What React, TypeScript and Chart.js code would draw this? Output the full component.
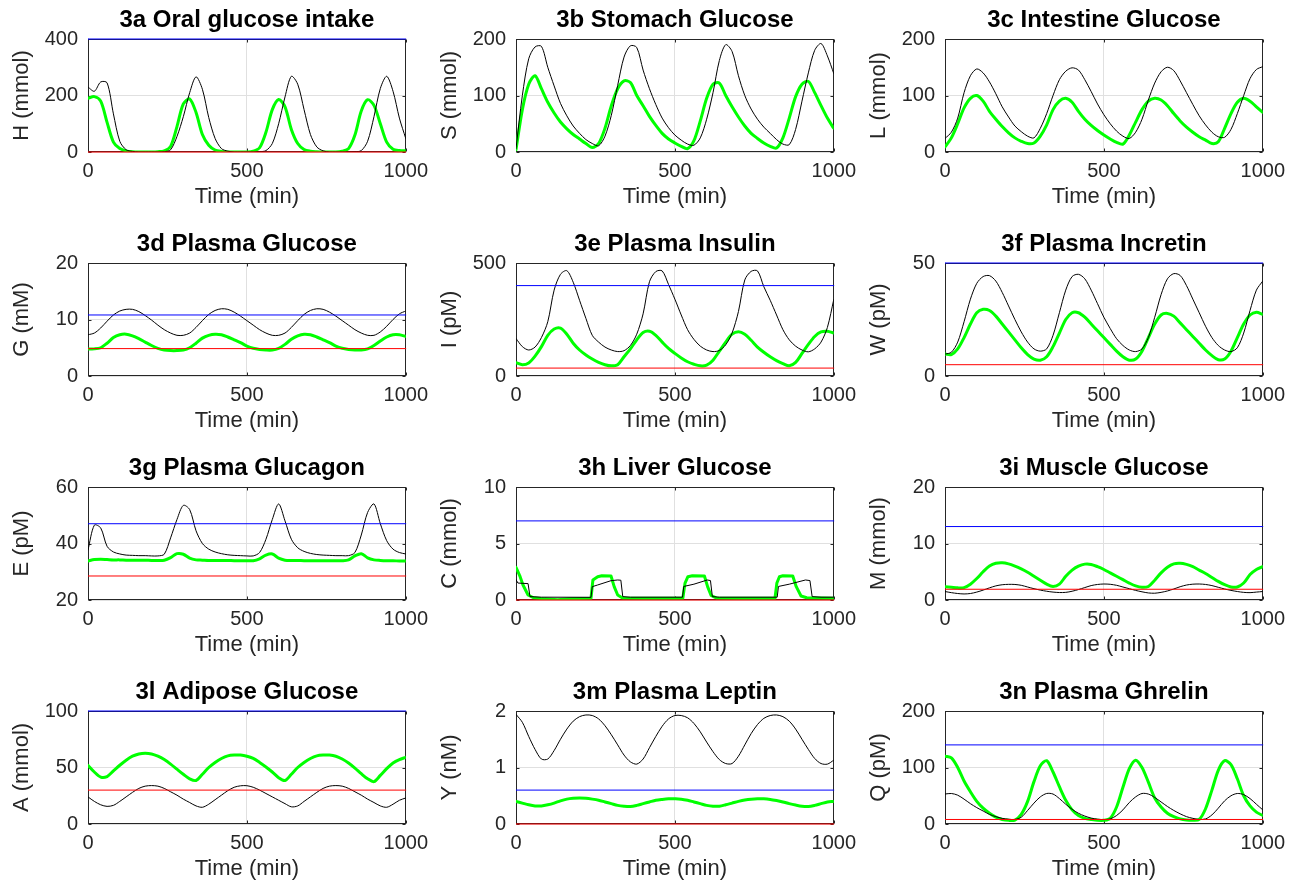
import React, { useEffect, useRef } from "react";
import { Chart, registerables } from "chart.js";

Chart.register(...registerables);

const FONT = "'Liberation Sans', Arial, Helvetica, sans-serif";

// ---------- data ----------
const timeMin = [0,20,40,60,80,100,120,140,160,180,200,220,240,260,280,300,320,340,360,380,400,420,440,460,480,500,520,540,560,580,600,620,640,660,680,700,720,740,760,780,800,820,840,860,880,900,920,940,960,980,1000];

const hBlack = [230,215,248,245,135,38,8,2,0,0,0,0,1,8,55,125,210,266,222,122,48,12,3,0,0,0,0,1,5,30,100,195,268,240,150,62,18,4,0,0,0,0,1,5,38,125,225,268,215,120,48];
const hGreen = [190,196,180,105,35,12,4,1,0,0,0,1,4,20,90,170,188,140,62,24,7,2,0,0,0,0,3,15,70,150,186,160,80,30,9,3,1,0,0,0,3,12,60,145,185,165,100,35,10,5,4];

const sBlack = [6,100,165,186,187,150,117,86,64,46,33,22,15,11,28,65,118,168,188,185,145,112,84,60,43,30,21,14,12,25,58,105,162,190,178,135,100,76,58,44,33,22,14,13,40,90,140,180,192,170,139];
const sGreen = [4,75,120,135,112,88,69,53,41,31,23,15,8,15,42,82,112,126,123,100,82,63,47,33,23,16,10,6,20,55,95,120,122,100,80,62,46,33,24,16,10,7,25,60,98,120,125,105,82,60,42];

const lBlack = [24,35,60,105,135,147,140,124,103,80,62,46,36,28,25,42,68,100,128,143,149,145,128,107,85,66,50,37,28,24,35,58,92,122,142,150,144,126,105,84,64,48,35,27,26,40,68,100,130,146,151];
const lGreen = [9,25,50,78,95,100,90,72,58,45,34,25,19,15,16,28,48,75,90,95,88,72,58,47,38,30,23,17,14,30,53,75,90,95,92,82,68,55,44,35,27,21,15,18,42,68,88,95,90,80,70];

const gBlack = [7.3,7.6,8.5,9.7,10.8,11.5,11.8,11.8,11.4,10.7,9.9,9.0,8.2,7.6,7.2,7.2,7.6,8.6,9.8,10.9,11.6,11.9,11.8,11.3,10.6,9.8,9.0,8.2,7.6,7.2,7.2,7.6,8.6,9.8,10.9,11.6,11.9,11.8,11.3,10.6,9.8,9.0,8.2,7.6,7.2,7.2,7.8,8.8,10.0,11.0,11.5];
const gGreen = [4.8,4.8,5.0,5.8,6.8,7.3,7.4,7.1,6.6,6.0,5.4,4.9,4.6,4.5,4.5,4.6,5.0,5.8,6.7,7.2,7.4,7.3,6.9,6.4,5.9,5.3,4.9,4.7,4.6,4.6,4.9,5.6,6.5,7.1,7.4,7.3,6.9,6.4,5.9,5.3,4.9,4.7,4.6,4.6,4.8,5.4,6.2,6.9,7.3,7.3,7.0];

const iBlack = [166,130,115,128,170,240,380,450,466,415,335,255,180,150,128,115,108,112,135,185,275,417,462,465,405,340,270,205,162,132,115,108,113,138,190,285,425,463,465,395,335,270,205,160,132,115,107,120,150,215,338];
const iGreen = [59,50,58,88,130,180,208,212,185,145,115,93,75,60,50,45,50,85,120,160,192,198,180,150,122,100,80,63,52,45,48,70,110,150,185,196,185,158,128,105,85,68,55,45,60,100,140,175,195,198,190];

const wBlack = [9.7,10.5,15,24,34,41,44,44.4,42,37,31,25,19.5,15,12,11,12,18,28,38,44,45,43,38,32,26,21,16.5,13.5,11.5,10.8,12,17,26,36,43,45.3,44.5,40,34,28,22,17,13.5,11.5,10.8,12.5,19,29,38,42];
const wGreen = [9.7,9.5,12,17,23,28,29.5,29,26.5,23,19.5,16,12.5,9.5,7.5,7,8.5,13,19,25,28,28,26,23,20,17,14,11,8.5,7,7.5,11,17,23,27,27.7,26.5,23.5,20.5,17.5,14.5,11.5,9,7.2,7.5,11,17,23,27,28.2,27.3];

const eBlack = [37.7,46.5,45.5,39,37,36.3,35.9,35.8,35.7,35.7,35.6,35.6,36.2,42,48.5,53.5,52,44.5,40,38,37,36.4,36,35.8,35.7,35.6,35.6,36.8,41.5,48.5,54,48,41.5,38.5,37.2,36.5,36.1,35.9,35.8,35.7,35.7,35.7,36.8,43,51,54,47,41,38,36.8,36.3];
const eGreen = [33.8,34.3,34.4,34.3,34.2,34.2,34.1,34.1,34.1,34.1,34.0,34.0,34.1,35.0,36.4,36.2,34.8,34.2,34.1,34.0,34.0,34.0,34.0,33.9,33.9,33.9,33.9,34.6,35.9,36.3,34.8,34.1,34.0,34.0,33.9,33.9,33.9,33.9,33.9,33.9,33.9,34.2,35.6,36.4,34.9,34.2,34.0,33.9,33.9,33.8,33.8];

// 3h has step-like curves: own sample times so the edges stay steep
const cBlackTime = [0,6,38,44,80,236,240,257,299,320,330,336,360,524,528,560,602,612,618,640,822,826,860,911,925,932,960,1000];
const cBlack = [1.8,1.5,1.45,0.3,0.25,0.24,1.18,1.33,1.71,1.77,1.75,0.3,0.25,0.25,1.2,1.4,1.77,1.72,0.3,0.25,0.25,1.2,1.4,1.77,1.72,0.3,0.25,0.25];
const cGreenTime = [0,13,22,38,55,90,131,170,236,242,257,270,299,309,320,335,400,525,532,541,555,593,603,614,630,700,815,821,829,840,871,882,897,915,1000];
const cGreen = [2.9,2.06,1.33,0.44,0.2,0.1,0.03,0.12,0.15,1.77,2.06,2.15,2.12,1.18,0.44,0.18,0.15,0.15,1.5,2.06,2.15,2.12,1.18,0.4,0.18,0.15,0.15,1.5,2.06,2.15,2.12,1.18,0.35,0.2,0.15];

const mBlack = [1.5,1.3,1.15,1.07,1.15,1.4,1.75,2.15,2.5,2.7,2.77,2.75,2.6,2.3,2.0,1.75,1.55,1.4,1.32,1.35,1.55,1.85,2.2,2.55,2.75,2.83,2.78,2.6,2.3,2.0,1.7,1.45,1.25,1.2,1.35,1.6,1.95,2.35,2.65,2.8,2.83,2.75,2.55,2.25,1.95,1.7,1.5,1.35,1.3,1.4,1.5];
const mGreen = [2.35,2.25,2.15,2.2,2.8,3.8,5.0,6.0,6.5,6.6,6.4,6.0,5.5,4.9,4.2,3.5,2.8,2.4,2.8,4.2,5.3,6.0,6.35,6.3,5.9,5.4,4.8,4.2,3.6,3.0,2.5,2.25,2.4,3.5,4.8,5.8,6.4,6.5,6.3,5.9,5.3,4.7,4.0,3.3,2.7,2.3,2.3,3.0,4.5,5.4,5.9];

const aBlack = [24,20,17,15.6,16.5,20,24,28,31.5,33.5,34,33.5,31.5,28.5,25.5,22,19,16,14.8,17.5,21.5,25.5,29.5,32.5,33.8,33.9,32.5,30,27,24,21,18,15.2,16,20,24,28,31.5,33.5,34,33.5,31.5,28.5,25.5,22,19,16,14.8,17.5,21,23];
const aGreen = [52,46,41.5,42,47,52,56.5,60,62,62.6,62,60,57,53,48.5,44,40,38.5,44,50,54.5,58,60.3,61,61,60,58,54.5,50.5,46,41,38.5,44,50,54.5,58,60.3,61,61,60,57.5,54,49.5,44.5,40,37.5,43,49,54,57,59];

const yBlack = [1.94,1.8,1.55,1.32,1.15,1.15,1.3,1.5,1.68,1.82,1.9,1.93,1.92,1.86,1.74,1.58,1.4,1.22,1.1,1.06,1.15,1.35,1.55,1.73,1.86,1.92,1.92,1.88,1.78,1.63,1.45,1.28,1.14,1.07,1.07,1.2,1.4,1.6,1.76,1.87,1.92,1.93,1.9,1.82,1.68,1.5,1.32,1.16,1.07,1.06,1.13];
const yGreen = [0.4,0.37,0.34,0.32,0.32,0.34,0.37,0.41,0.44,0.455,0.46,0.455,0.44,0.42,0.39,0.36,0.33,0.315,0.31,0.33,0.36,0.39,0.42,0.435,0.445,0.445,0.44,0.42,0.39,0.36,0.33,0.315,0.315,0.34,0.37,0.4,0.425,0.44,0.445,0.445,0.435,0.415,0.39,0.36,0.335,0.315,0.31,0.33,0.36,0.39,0.4];

const qBlack = [53,54,51,44,36,29,23,17,13,10,8.5,8,12,24,37,48,54,53,45,35,26,19,14,10.5,8.5,7.8,9,15,25,38,48,54,53,47,39,31,24,18,13,10,8,9,16,28,41,50,54,52,45,35,25];
const qGreen = [120,117,100,76,57,40,28,19,12,8,6.5,7,17,40,75,103,112,92,66,42,25,15,10,8,6.5,6.5,10,30,65,98,113,100,74,46,30,19,13,9,7,6.5,8,27,60,95,112,105,80,50,32,21,15];

const panelTitles = ["3a Oral glucose intake","3b Stomach Glucose","3c Intestine Glucose","3d Plasma Glucose","3e Plasma Insulin","3f Plasma Incretin","3g Plasma Glucagon","3h Liver Glucose","3i Muscle Glucose","3l Adipose Glucose","3m Plasma Leptin","3n Plasma Ghrelin"];
const yLabels = ["H (mmol)","S (mmol)","L (mmol)","G (mM)","I (pM)","W (pM)","E (pM)","C (mmol)","M (mmol)","A (mmol)","Y (nM)","Q (pM)"];
const yTickValues = [[0,200,400],[0,100,200],[0,100,200],[0,10,20],[0,500],[0,50],[20,40,60],[0,5,10],[0,10,20],[0,50,100],[0,1,2],[0,100,200]];
const xTickValues = [0,500,1000];
const xLabel = "Time (min)";
const blackSeries = [hBlack,sBlack,lBlack,gBlack,iBlack,wBlack,eBlack,cBlack,mBlack,aBlack,yBlack,qBlack];
const greenSeries = [hGreen,sGreen,lGreen,gGreen,iGreen,wGreen,eGreen,cGreen,mGreen,aGreen,yGreen,qGreen];
const blackTimes = [timeMin,timeMin,timeMin,timeMin,timeMin,timeMin,timeMin,cBlackTime,timeMin,timeMin,timeMin,timeMin];
const greenTimes = [timeMin,timeMin,timeMin,timeMin,timeMin,timeMin,timeMin,cGreenTime,timeMin,timeMin,timeMin,timeMin];
const blueLevels: (number | null)[] = [400,null,null,10.8,400,50,47,7,13,100,0.6,140];
const redLevels: (number | null)[] = [0,null,null,4.85,35,5,28.5,0,1.9,30,0,8];

// ---------- layout ----------
const COL_LEFT = [88, 516, 945];
const ROW_TOP = [39, 263, 487, 711];
const PLOT_W = 319;
const PLOT_H = 113;
const AXIS_W = 90;
const TITLE_H = 39;
const XAXIS_H = 62;
const RIGHT_PAD = 28;

const boxPlugin = {
  id: "matlabBox",
  beforeDatasetsDraw(chart: any) {
    const { ctx, chartArea, scales } = chart;
    const { left, top, right, bottom } = chartArea;
    const x = scales.x;
    const y = scales.y;
    ctx.save();
    ctx.strokeStyle = "#262626";
    ctx.lineWidth = 1;
    const l = Math.round(left) + 0.5;
    const t = Math.round(top) + 0.5;
    const r = Math.round(right) - 0.5;
    const b = Math.round(bottom) - 0.5;
    ctx.strokeRect(l, t, r - l, b - t);
    ctx.beginPath();
    x.ticks.forEach((tk: any) => {
      const px = Math.round(x.getPixelForValue(tk.value)) + 0.5;
      ctx.moveTo(px, b); ctx.lineTo(px, b - 3);
      ctx.moveTo(px, t); ctx.lineTo(px, t + 3);
    });
    y.ticks.forEach((tk: any) => {
      const py = Math.round(y.getPixelForValue(tk.value)) + 0.5;
      ctx.moveTo(l, py); ctx.lineTo(l + 3, py);
      ctx.moveTo(r, py); ctx.lineTo(r - 3, py);
    });
    ctx.stroke();
    ctx.restore();
  },
};

function Panel({ index }: { index: number }) {
  const ref = useRef<HTMLCanvasElement | null>(null);
  const col = index % 3;
  const row = Math.floor(index / 3);
  const left = COL_LEFT[col] - AXIS_W;
  const top = ROW_TOP[row] - TITLE_H;
  const width = AXIS_W + PLOT_W + RIGHT_PAD;
  const height = TITLE_H + PLOT_H + XAXIS_H;

  useEffect(() => {
    const canvas = ref.current;
    if (!canvas) return;
    const toPoints = (times: number[], vals: number[]) => times.map((t, i) => ({ x: t, y: vals[i] }));
    const flat = (v: number) => [
      { x: xTickValues[0], y: v },
      { x: xTickValues[xTickValues.length - 1], y: v },
    ];
    const tension = index === 7 ? 0 : 0.3;
    const datasets: any[] = [];
    const red = redLevels[index];
    const blue = blueLevels[index];
    if (red !== null) datasets.push({ data: flat(red), borderColor: "#ff0000", borderWidth: 1, tension: 0, clip: 2 });
    if (blue !== null) datasets.push({ data: flat(blue), borderColor: "#0000ff", borderWidth: 1, tension: 0, clip: 2 });
    datasets.push({ data: toPoints(blackTimes[index], blackSeries[index]), borderColor: "#000000", borderWidth: 1, tension });
    datasets.push({ data: toPoints(greenTimes[index], greenSeries[index]), borderColor: "#00ff00", borderWidth: 3, tension });

    const yt = yTickValues[index];
    const chart = new Chart(canvas, {
      type: "line",
      data: { datasets },
      plugins: [boxPlugin],
      options: {
        animation: false,
        responsive: false,
        devicePixelRatio: 1,
        layout: { padding: { left: 0, right: RIGHT_PAD, top: 0, bottom: 0 } },
        elements: { point: { radius: 0 }, line: { borderCapStyle: "round", borderJoinStyle: "round" } },
        plugins: {
          legend: { display: false },
          tooltip: { enabled: false },
          title: {
            display: true,
            text: panelTitles[index],
            color: "#000000",
            fullSize: false,
            font: { family: FONT, size: 24, weight: "bold", lineHeight: 1.2 },
            padding: { top: 5.6, bottom: 4.6 },
          },
        },
        scales: {
          x: {
            type: "linear",
            min: xTickValues[0],
            max: xTickValues[xTickValues.length - 1],
            afterBuildTicks: (s: any) => { s.ticks = xTickValues.map((v) => ({ value: v })); },
            afterFit: (s: any) => { s.height = XAXIS_H; },
            grid: { color: "#e0e0e0", lineWidth: 1, drawTicks: false },
            border: { display: false },
            ticks: {
              color: "#262626",
              font: { family: FONT, size: 20, lineHeight: 1.2 },
              padding: 7,
              maxRotation: 0,
              autoSkip: false,
              callback: (v: any) => String(v),
            },
            title: {
              display: true,
              text: xLabel,
              color: "#262626",
              font: { family: FONT, size: 22, lineHeight: 1.2 },
              padding: { top: 0, bottom: 3.5 },
            },
          },
          y: {
            type: "linear",
            min: yt[0],
            max: yt[yt.length - 1],
            afterBuildTicks: (s: any) => { s.ticks = yt.map((v) => ({ value: v })); },
            afterFit: (s: any) => { s.width = AXIS_W; },
            grid: { color: "#e0e0e0", lineWidth: 1, drawTicks: false },
            border: { display: false },
            ticks: {
              color: "#262626",
              font: { family: FONT, size: 20, lineHeight: 1.2 },
              padding: 10,
              autoSkip: false,
              callback: (v: any) => String(v),
            },
            title: {
              display: true,
              text: yLabels[index],
              color: "#262626",
              font: { family: FONT, size: 22, lineHeight: 1.2 },
              padding: { top: 10.8, bottom: 0 },
            },
          },
        },
      } as any,
    });
    return () => chart.destroy();
  }, [index]);

  return (
    <canvas
      ref={ref}
      width={width}
      height={height}
      style={{ position: "absolute", left, top, width, height }}
    />
  );
}

export default function App() {
  return (
    <div style={{ position: "absolute", left: 0, top: 0, width: 1306, height: 895, background: "#ffffff", overflow: "hidden" }}>
      {panelTitles.map((_, i) => (
        <Panel key={i} index={i} />
      ))}
    </div>
  );
}
